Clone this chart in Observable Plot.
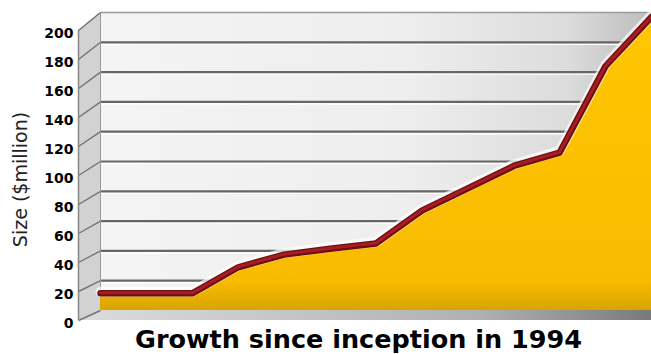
<!DOCTYPE html>
<html><head><meta charset="utf-8">
<script src="https://cdn.jsdelivr.net/npm/d3@7"></script>
<script src="https://cdn.jsdelivr.net/npm/@observablehq/plot@0.6"></script>
<style>
body{margin:0;background:#fff;overflow:hidden;}
#chart svg{display:block;}
#title{font-family:"DejaVu Sans",sans-serif;font-weight:bold;font-size:25.5px;color:#000;width:651px;text-align:center;padding-left:66px;box-sizing:border-box;line-height:30px;margin-top:-11px;position:relative;}
</style></head><body>
<div id="chart"></div>
<div id="title">Growth since inception in 1994</div>
<script>
// Data
const years = [1994, 1995, 1996, 1997, 1998, 1999, 2000, 2001, 2002, 2003, 2004, 2005, 2006];
const sizes = [11.5, 11.5, 11.5, 29, 37.5, 41.5, 45, 67, 82, 97, 106, 164, 197];
const yTicks = [0, 20, 40, 60, 80, 100, 120, 140, 160, 180, 200];
const gridValues = [20, 40, 60, 80, 100, 120, 140, 160, 180];
const yLabel = "Size ($million)";

const series = years.map((year, i) => ({year, size: sizes[i]}));

// 3D wall geometry (styling)
const pxPerUnit = 298 / 200;
const pxPerYear = 551 / 12;
const depthUnits = v => (10 + 8 * v / 200) / pxPerUnit;
const xFront = years[0] - 22 / pxPerYear;
const xEnd = years[years.length - 1];
const sideWall = [
  {x: xFront, y1: -depthUnits(0), y2: 200 - depthUnits(200)},
  {x: years[0], y1: 0, y2: 200}
];
const floor = [
  {x: xFront, y1: -depthUnits(0), y2: -depthUnits(0)},
  {x: years[0], y1: -depthUnits(0), y2: 0},
  {x: xEnd, y1: -depthUnits(0), y2: 0}
];

const chart = Plot.plot({
  width: 651,
  height: 335,
  marginLeft: 78,
  marginRight: 0,
  marginTop: 12,
  marginBottom: 25,
  x: {domain: [xFront, xEnd], axis: null},
  y: {domain: [0, 200], range: [310, 12], axis: null},
  marks: [
    Plot.rect([0], {x1: years[0], x2: xEnd, y1: 0, y2: 200, fill: "url(#wallGrad)"}),
    Plot.ruleY([200], {x1: years[0], x2: xEnd, stroke: "#9a9a9a", strokeWidth: 1.5}),
    Plot.ruleY(gridValues, {x1: years[0], x2: xEnd, stroke: "#ffffff", strokeWidth: 1.5, dy: 2}),
    Plot.ruleY(gridValues, {x1: years[0], x2: xEnd, stroke: "#666666", strokeWidth: 2.2}),
    Plot.areaY(floor, {x: "x", y1: "y1", y2: "y2", fill: "url(#floorGrad)"}),
    Plot.areaY(sideWall, {x: "x", y1: "y1", y2: "y2", fill: "#d2d2d2"}),
    Plot.link(yTicks, {x1: xFront, y1: v => v - depthUnits(v), x2: years[0], y2: v => v, stroke: "#737373", strokeWidth: 1.4}),
    Plot.ruleX([xFront], {y1: -depthUnits(0), y2: 200 - depthUnits(200), stroke: "#888", strokeWidth: 1.5}),
    Plot.ruleX([years[0]], {y1: 0, y2: 200, stroke: "#9a9a9a", strokeWidth: 1}),
    Plot.areaY(series, {x: "year", y: "size", fill: "url(#goldGrad)"}),
    Plot.line(series, {x: "year", y: "size", stroke: "#ffffff", strokeOpacity: 0.7, strokeWidth: 10, dy: -1.5}),
    Plot.line(series, {x: "year", y: "size", stroke: "#6e0f12", strokeWidth: 6.5}),
    Plot.line(series, {x: "year", y: "size", stroke: "#a81c24", strokeWidth: 3, dy: -0.5}),
    Plot.text(yTicks, {x: xFront, y: v => v - depthUnits(v), text: d => String(d), dx: -5, dy: 3,
      textAnchor: "end", fontWeight: "bold", fontSize: 14, fill: "#000", fontFamily: "DejaVu Sans"}),
    Plot.text([yLabel], {x: xFront, y: 100, text: d => d, dx: -58, dy: 18, rotate: -90,
      fontSize: 19, fill: "#222", fontFamily: "DejaVu Sans"})
  ]
});

const svg = d3.select(chart);
const defs = svg.insert("defs", ":first-child");
const wall = defs.append("linearGradient").attr("id", "wallGrad").attr("x1", 0).attr("x2", 1).attr("y1", 0).attr("y2", 0);
wall.append("stop").attr("offset", 0).attr("stop-color", "#f4f4f4");
wall.append("stop").attr("offset", 0.55).attr("stop-color", "#eeeeee");
wall.append("stop").attr("offset", 0.85).attr("stop-color", "#dcdcdc");
wall.append("stop").attr("offset", 1).attr("stop-color", "#bdbdbd");
const gold = defs.append("linearGradient").attr("id", "goldGrad").attr("x1", 0).attr("x2", 0).attr("y1", 0).attr("y2", 1);
gold.append("stop").attr("offset", 0).attr("stop-color", "#ffc600");
gold.append("stop").attr("offset", 0.9).attr("stop-color", "#f9bb00");
gold.append("stop").attr("offset", 1).attr("stop-color", "#d9a400");
const fl = defs.append("linearGradient").attr("id", "floorGrad").attr("x1", 0).attr("x2", 1).attr("y1", 0).attr("y2", 0);
fl.append("stop").attr("offset", 0).attr("stop-color", "#dcdcdc");
fl.append("stop").attr("offset", 0.7).attr("stop-color", "#b0b0b0");
fl.append("stop").attr("offset", 1).attr("stop-color", "#7a7a7a");

document.getElementById("chart").appendChild(chart);
</script>
</body></html>
